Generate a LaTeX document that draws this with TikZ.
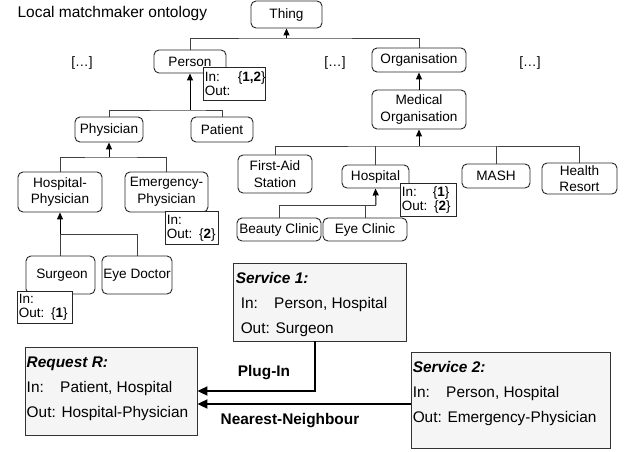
\documentclass[tikz,border=0pt]{standalone}
\usepackage{fontspec}
\setmainfont{Liberation Sans}
\usetikzlibrary{arrows.meta,positioning}

\begin{document}
\begin{tikzpicture}[
    x=1pt, y=-1pt,
    >={Triangle[width=6pt,length=7pt]},
    font=\fontsize{13.6}{16.7}\selectfont,
    concept/.style={draw=black!85, line width=0.9pt, rounded corners=5pt,
      fill=white, align=center, inner sep=1pt},
    inout/.style={draw=black!85, line width=0.9pt, fill=white,
      anchor=north west, align=left, inner xsep=1.5pt, inner ysep=0pt,
      font=\fontsize{13.5}{14}\selectfont},
    svcbox/.style={draw=black!80, line width=0.9pt, fill=black!4},
    svctext/.style={anchor=north west, inner sep=0pt, align=left,
      font=\fontsize{15.4}{25}\selectfont},
    link/.style={draw=black!75, line width=1pt},
    isa/.style={->, black, line width=1pt},
    match/.style={-{Triangle[width=9pt,length=10pt]}, line width=2pt},
    tag/.style={font=\bfseries\fontsize{15.4}{18}\selectfont}
  ]
  \useasboundingbox (0,0) rectangle (638,451);

  \node[anchor=west, font=\fontsize{15.5}{18}\selectfont] (title) at (14,13)
  {Local matchmaker ontology};

  \node[concept, minimum width=71, minimum height=27] (thing) at (286.5,14.5) {Thing};
  \node[concept, minimum width=72, minimum height=23] (person) at (190,61.5) {Person};
  \node[concept, minimum width=94, minimum height=24] (organisation) at (419,60) {Organisation};
  \node[concept, minimum width=94, minimum height=39] (medorg) at (419,109.5)
  {Medical\\Organisation};

  \node (dotsA) at (82,63) {[…]};
  \node (dotsB) at (335,63) {[…]};
  \node (dotsC) at (530,63) {[…]};

  \node[concept, minimum width=68, minimum height=25] (physician) at (109,129.5) {Physician};
  \node[concept, minimum width=62, minimum height=25] (patient) at (222,129.5) {Patient};
  \node[concept, minimum width=84, minimum height=40] (hosphys) at (60,192)
  {Hospital-\\Physician};
  \node[concept, minimum width=83, minimum height=40] (emphys) at (166.5,192)
  {Emergency-\\Physician};
  \node[concept, minimum width=69, minimum height=38] (surgeon) at (60.5,275) {\hspace*{3pt}Surgeon};
  \node[concept, minimum width=70, minimum height=38] (eyedoctor) at (137,275) {Eye Doctor};

  \node[concept, minimum width=74, minimum height=38] (firstaid) at (275,174)
  {First-Aid\\Station};
  \node[concept, minimum width=67, minimum height=23] (hospital) at (375.5,176.5) {Hospital};
  \node[concept, minimum width=68, minimum height=24] (mash) at (496,176) {MASH};
  \node[concept, minimum width=75, minimum height=31] (healthresort) at (579.5,178.5)
  {Health\\Resort};
  \node[concept, minimum width=84, minimum height=23] (beauty) at (279,229.5) {Beauty Clinic};
  \node[concept, minimum width=84, minimum height=23] (eyeclinic) at (365,229.5) {Eye Clinic};

  \coordinate (jThing) at (286.5,38);
  \coordinate (jPerson) at (190,110);
  \coordinate (jMed) at (419,146);
  \coordinate (jHosp) at (376,205);
  \coordinate (jPhys) at (109,157);
  \coordinate (jHP) at (60,234);

  \draw[link] (person.north) |- (jThing) -| (organisation.north);
  \draw[isa] (jThing) -- (thing.south);
  \draw[link] (physician.north) |- (jPerson) -| (patient.north);
  \draw[isa] (jPerson) -- (person.south);
  \draw[isa] (medorg.north) -- (organisation.south);
  \draw[link] (firstaid.north) |- (jMed) -| (healthresort.north);
  \draw[link] (hospital.north) -- (hospital.north |- jMed);
  \draw[link] (mash.north) -- (mash.north |- jMed);
  \draw[isa] (jMed) -- (medorg.south);
  \draw[link] (beauty.north) |- (jHosp);
  \draw[link] (eyeclinic.north) -- (eyeclinic.north |- jHosp);
  \draw[isa] (jHosp) -- (hospital.south);
  \draw[link] (hosphys.north) |- (jPhys) -| (emphys.north);
  \draw[isa] (jPhys) -- (physician.south);
  \draw[link] (surgeon.north -| jHP) -- (jHP) -| (eyedoctor.north);
  \draw[isa] (jHP) -- (hosphys.south);

  \node[inout, text width=59, minimum height=33] (ioPerson) at (203,67)
  {\makebox[33pt][l]{In:}\{\textbf{1,2}\}\\Out:};
  \node[inout, text width=53, minimum height=33] (ioHospital) at (400,183)
  {\makebox[31pt][l]{In:}\{\textbf{1}\}\\Out: \{\textbf{2}\}};
  \node[inout, text width=50, minimum height=33] (ioEmphys) at (165,211)
  {In:\\Out: \{\textbf{2}\}};
  \node[inout, text width=52, minimum height=32] (ioSurgeon) at (17,291)
  {In:\\Out: \{\textbf{1}\}};

  \node[svcbox, minimum width=173, minimum height=78] (svc1) at (319.5,302) {};
  \node[svctext] (svc1txt) at ([shift={(3,8.5)}]svc1.north west)
  {\rule{0pt}{12pt}\textbf{\textit{Service 1:}}\\
    \hspace*{5pt}\makebox[33.5pt][l]{In:}Person, Hospital\\
    \hspace*{5pt}Out: Surgeon};

  \node[svcbox, minimum width=172, minimum height=88] (request) at (111,391) {};
  \node[svctext] (requesttxt) at ([shift={(2,8.5)}]request.north west)
  {\rule{0pt}{12pt}\textbf{\textit{Request R:}}\\
    \makebox[33.5pt][l]{In:}Patient, Hospital\\
    Out: Hospital-Physician};

  \node[svcbox, minimum width=199, minimum height=96] (svc2) at (510.5,400) {};
  \node[svctext] (svc2txt) at ([shift={(2,8.5)}]svc2.north west)
  {\rule{0pt}{12pt}\textbf{\textit{Service 2:}}\\
    \makebox[33.5pt][l]{In:}Person, Hospital\\
    Out: Emergency-Physician};

  \draw[match] ([xshift=-5pt]svc1.south) |- (request.east);
  \draw[match] ([yshift=-4pt]svc2.west) -- ([yshift=-4pt]svc2.west -| request.east);
  \node[tag] (plugin) at (264,373) {Plug-In};
  \node[tag] (nearest) at (290,421) {Nearest-Neighbour};
\end{tikzpicture}
\end{document}
